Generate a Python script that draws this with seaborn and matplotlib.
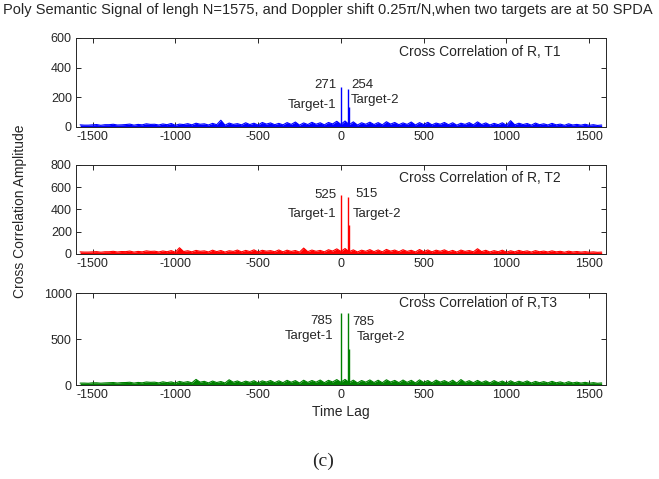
import numpy as np
import pandas as pd
import seaborn as sns
import matplotlib
matplotlib.use("Agg")
import matplotlib.pyplot as plt

# lag axis for the noise floor (a peak value then a dip value, every 25 lags)
lags = np.arange(-1575, 1576, 25)

# noise floor: local highs (64) and dips in between (63)
noise_t1 = [14, 12, 16, 15, 18, 14, 19, 17, 21, 18, 20, 23, 19, 22, 25, 21, 24, 45, 26, 22, 28, 25, 30, 27, 24, 29, 33, 27, 31, 28, 30, 38,
            40, 34, 28, 32, 29, 35, 30, 27, 33, 29, 31, 26, 30, 28, 25, 29, 34, 27, 24, 28, 42, 25, 23, 26, 21, 24, 19, 21, 17, 18, 15, 13]
dips_t1 = [12, 14, 11, 15, 13, 16, 12, 14, 17, 13, 15, 11, 16, 14, 18, 13, 15, 12, 17, 14, 16, 13, 19, 15, 14, 17, 12, 16, 18, 14, 20, 17,
           15, 13, 18, 16, 14, 19, 15, 17, 13, 16, 14, 18, 15, 12, 17, 14, 16, 13, 15, 11, 14, 16, 12, 15, 13, 14, 11, 13, 12, 11, 10]
noise_t2 = [18, 16, 20, 19, 23, 21, 25, 22, 27, 24, 26, 29, 55, 28, 31, 27, 33, 30, 28, 34, 31, 36, 32, 29, 35, 33, 30, 52, 34, 31, 37, 45,
            48, 36, 33, 38, 35, 40, 34, 37, 32, 39, 35, 33, 36, 31, 34, 30, 46, 32, 29, 33, 28, 31, 27, 29, 25, 27, 23, 24, 21, 20, 18, 16]
dips_t2 = [16, 18, 15, 19, 17, 20, 16, 18, 22, 17, 19, 15, 21, 18, 23, 17, 20, 16, 22, 18, 21, 17, 24, 19, 18, 22, 16, 20, 23, 18, 25, 22,
           19, 17, 23, 20, 18, 24, 19, 22, 17, 20, 18, 23, 19, 16, 22, 18, 20, 17, 19, 15, 18, 20, 16, 19, 17, 18, 15, 17, 16, 15, 14]
noise_t3 = [22, 20, 25, 24, 28, 27, 31, 29, 34, 32, 36, 35, 40, 38, 62, 41, 44, 39, 58, 45, 43, 48, 46, 50, 47, 52, 49, 53, 50, 55, 52, 60,
            62, 54, 50, 56, 53, 58, 51, 55, 52, 57, 50, 54, 49, 53, 60, 48, 51, 46, 49, 44, 47, 42, 45, 40, 38, 41, 35, 37, 32, 30, 27, 24]
dips_t3 = [22, 25, 21, 26, 23, 28, 22, 25, 30, 24, 27, 22, 29, 25, 32, 24, 28, 23, 31, 26, 30, 24, 33, 27, 26, 31, 23, 29, 32, 26, 34, 31,
           27, 24, 32, 28, 26, 33, 27, 30, 24, 28, 25, 32, 27, 23, 30, 26, 28, 24, 27, 22, 25, 28, 23, 26, 24, 25, 21, 24, 22, 21, 20]

# the target peaks
peak_lags = [0, 43, 50]
peaks_t1 = [271, 254, 135]
peaks_t2 = [525, 515, 262]
peaks_t3 = [785, 785, 395]

panel_names = ["Cross Correlation of R, T1", "Cross Correlation of R, T2", "Cross Correlation of R,T3"]
labels_1 = ["271", "525", "785"]
labels_2 = ["254", "515", "785"]
yticks = [[0, 200, 400, 600], [0, 200, 400, 600, 800], [0, 500, 1000]]
xticks = [-1500, -1000, -500, 0, 500, 1000, 1500]

sns.set_style("ticks")
plt.rcParams["font.family"] = ["Liberation Sans", "DejaVu Sans"]
plt.rcParams["axes.unicode_minus"] = False
plt.rcParams["xtick.direction"] = "in"
plt.rcParams["ytick.direction"] = "in"

fig = plt.figure(figsize=(6.59, 4.79), dpi=100)

boxes = [(0.735, 0.921), (0.470, 0.656), (0.196, 0.388)]
colors = [(0, 0, 1), (1, 0, 0), (0, 0.5, 0)]
highs = [noise_t1, noise_t2, noise_t3]
dips = [dips_t1, dips_t2, dips_t3]
peaks = [peaks_t1, peaks_t2, peaks_t3]

# text spots (lag, value) for the peak labels
txt1 = [(-25, 283), (-25, 531), (-50, 698)]
tgt1 = [(-25, 150), (-25, 361), (-45, 535)]
txt2 = [(62, 283), (87, 537), (70, 684)]
tgt2 = [(62, 181), (70, 361), (95, 520)]
name_y = [0.84, 0.85, 0.89]

for i in range(3):
    b, t = boxes[i]
    ax = fig.add_axes([0.1153, b, 0.804, t - b])
    c = colors[i]
    amp = np.empty(len(lags))
    amp[0::2] = highs[i]
    amp[1::2] = dips[i]
    df = pd.DataFrame({"lag": lags, "amp": amp})
    ax.fill_between(df["lag"], 0, df["amp"], color=c, lw=0)
    sns.lineplot(data=df, x="lag", y="amp", color=c, lw=0.8, estimator=None, ax=ax)
    ax.vlines(peak_lags, 0, peaks[i], color=c, lw=1.0)

    ax.set_xlim(-1600, 1600)
    ax.set_ylim(yticks[i][0], yticks[i][-1])
    ax.set_xticks(xticks)
    ax.set_yticks(yticks[i])
    ax.set_xlabel("")
    ax.set_ylabel("")
    ax.tick_params(top=True, right=True, length=3.5, width=0.7, labelsize=9, pad=3)
    for s in ax.spines.values():
        s.set_linewidth(0.7)

    ax.text(0.61, name_y[i], panel_names[i], transform=ax.transAxes, fontsize=10, va="center")
    ax.text(txt1[i][0], txt1[i][1], labels_1[i], ha="right", va="center", fontsize=9.5)
    ax.text(tgt1[i][0], tgt1[i][1], "Target-1", ha="right", va="center", fontsize=9.5)
    ax.text(txt2[i][0], txt2[i][1], labels_2[i], ha="left", va="center", fontsize=9.5)
    ax.text(tgt2[i][0], tgt2[i][1], "Target-2", ha="left", va="center", fontsize=9.5)

    if i == 2:
        ax.set_xlabel("Time Lag", fontsize=10, labelpad=3)

fig.text(0.498, 0.979, "Poly Semantic Signal of lengh N=1575, and Doppler shift 0.25\u03c0/N,when two targets are at 50 SPDA",
         ha="center", va="center", fontsize=10.5)
fig.text(0.03, 0.56, "Cross Correlation Amplitude", rotation=90, ha="center", va="center", fontsize=10)
fig.text(0.49, 0.037, "(c)", ha="center", va="center", fontsize=14, family="Liberation Serif")

fig.savefig("out.png", dpi=100)
